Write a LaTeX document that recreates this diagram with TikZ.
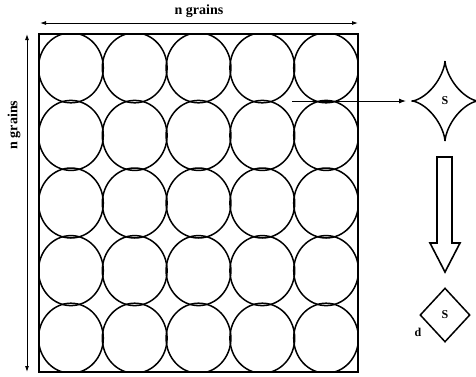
\documentclass[tikz,border=0pt]{standalone}
\usepackage{fontspec}
\setmainfont{Liberation Serif}
\usetikzlibrary{arrows.meta,positioning,shapes.geometric}

\tikzset{
  grain/.style={line width=1.5pt},
  frame/.style={line width=2pt},
  dimline/.style={line width=0.9pt,{Latex[length=6pt,width=4pt]}-{Latex[length=6pt,width=4pt]}},
  lbl/.style={font=\fontsize{14}{16}\selectfont\bfseries,inner sep=0pt}
}

\begin{document}
\begin{tikzpicture}[x=1pt,y=-1pt]
  \useasboundingbox (0,0) rectangle (476,376);

  % grains, clipped by the frame
  \begin{scope}
    \clip (39,34) rectangle (358,372);
    \foreach \i in {0,...,4}
      \foreach \j in {0,...,4}
        \draw[grain] ({39+31.9+63.8*\i},{34+33.8+67.6*\j}) ellipse [x radius=32.4,y radius=35];
  \end{scope}
  \draw[frame] (39,34) rectangle (358,372);

  % dimensions
  \coordinate (tl) at (40,23);
  \coordinate (tr) at (358,23);
  \draw[dimline] (tl) -- (tr);
  \node[lbl] (ntop) at (199,11) {n grains};
  \coordinate (lt) at (27,34);
  \coordinate (lb) at (27,372);
  \draw[dimline] (lt) -- (lb);
  \node[lbl,rotate=90] (nleft) at (14,125) {n grains};

  % pore between four grains
  \coordinate (pore) at (292,101);
  \draw[grain] plot[domain=0:360,samples=120,smooth]
    ({445+33*cos(\x)*cos(\x)*cos(\x)},{101+40*sin(\x)*sin(\x)*sin(\x)});
  \node[lbl,font=\fontsize{12}{14}\selectfont\bfseries] (pS) at (445,101) {S};
  \coordinate (pleft) at (406,101);
  \draw[line width=0.9pt,-{Latex[length=7pt,width=5pt]}] (pore) -- (pleft);

  % hollow arrow
  \draw[line width=1.6pt,line join=miter]
    (437,157) -- (452,157) -- (452,243) -- (460,243) -- (445,272)
    -- (430,243) -- (437,243) -- cycle;

  % equivalent square
  \node[diamond,draw,line width=1.5pt,minimum width=50pt,minimum height=54pt,
        inner sep=0pt,font=\fontsize{12}{14}\selectfont\bfseries] (sq) at (445,315) {S};
  \node[lbl,font=\fontsize{12}{14}\selectfont\bfseries] (dl) at (418,332) {d};
\end{tikzpicture}
\end{document}
